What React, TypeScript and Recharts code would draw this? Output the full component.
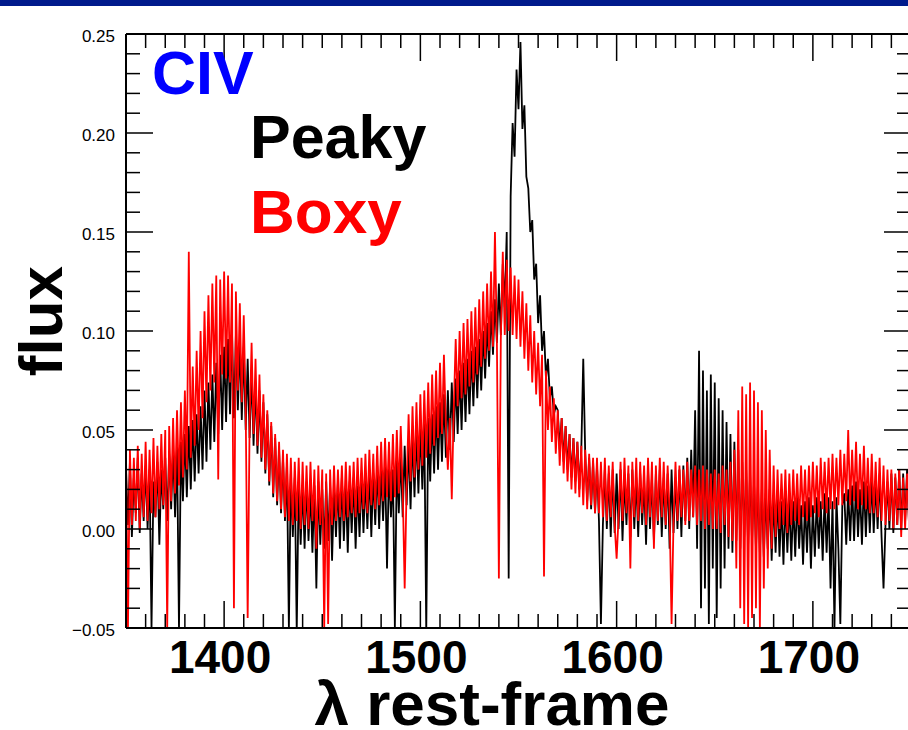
import React from "react";
import { LineChart, Line, XAxis, YAxis } from "recharts";

// wavelength grid of the spectra (rest-frame, Å)
const WAVE_START = 1350;
const WAVE_STEP = 1;

// "Peaky" composite (black), every 1 Å, one row per 10 Å
const peakyFlux = [
  0.030, 0.002, 0.034, -0.004, 0.026, 0.008, 0.036, -0.002, 0.028, 0.004, // 1350
  0.032, 0.000, 0.030, -0.050, 0.024, 0.006, 0.034, -0.008, 0.030, 0.010,
  0.036, 0.004, 0.038, 0.010, 0.040, 0.006, 0.042, -0.050, 0.044, 0.014,
  0.048, 0.016, 0.052, 0.020, 0.055, 0.024, 0.058, 0.028, 0.062, 0.030,
  0.070, 0.034, 0.074, 0.040, 0.078, 0.044, 0.084, 0.048, 0.088, 0.050,
  0.092, 0.054, 0.096, 0.058, 0.100, 0.056, 0.098, 0.060, 0.095, 0.055, // 1400
  0.092, 0.050, 0.086, 0.046, 0.080, 0.042, 0.074, 0.038, 0.070, 0.034,
  0.064, 0.028, 0.058, 0.022, 0.052, 0.016, 0.046, 0.012, 0.040, 0.008,
  0.036, 0.004, 0.032, -0.050, 0.028, -0.004, 0.026, -0.052, 0.024, -0.008,
  0.022, -0.010, 0.024, -0.006, 0.020, -0.012, 0.022, -0.030, 0.024, -0.008,
  0.020, -0.010, 0.024, -0.006, 0.022, -0.016, 0.020, -0.004, 0.024, -0.010, // 1450
  0.026, -0.006, 0.022, -0.012, 0.024, -0.002, 0.026, -0.010, 0.022, -0.004,
  0.028, -0.002, 0.026, 0.000, 0.030, -0.004, 0.028, 0.002, 0.032, 0.000,
  0.030, 0.004, 0.034, -0.020, 0.032, 0.006, 0.030, -0.050, 0.036, 0.008,
  0.038, 0.006, 0.042, 0.012, 0.044, 0.010, 0.048, 0.016, 0.050, 0.018,
  0.052, 0.020, 0.054, -0.052, 0.056, 0.024, 0.058, 0.028, 0.062, 0.030, // 1500
  0.064, 0.034, 0.068, 0.036, 0.070, 0.040, 0.074, 0.044, 0.076, 0.048,
  0.080, 0.050, 0.084, 0.054, 0.086, 0.058, 0.090, 0.062, 0.092, 0.066,
  0.096, 0.070, 0.100, 0.076, 0.104, 0.082, 0.110, 0.088, 0.116, 0.094,
  0.124, 0.098, 0.134, 0.112, 0.150, -0.025, 0.168, 0.205, 0.188, 0.232,
  0.212, 0.246, 0.202, 0.214, 0.178, 0.172, 0.150, 0.156, 0.126, 0.134, // 1550
  0.104, 0.118, 0.090, 0.100, 0.076, 0.086, 0.066, 0.072, 0.058, 0.062,
  0.060, 0.040, 0.056, 0.034, 0.052, 0.030, 0.048, 0.026, 0.046, 0.024,
  0.044, 0.020, 0.040, 0.086, 0.038, 0.014, 0.036, 0.010, 0.034, 0.008,
  0.032, 0.004, -0.048, 0.002, 0.030, 0.000, 0.028, -0.004, 0.030, -0.002,
  0.028, 0.000, 0.030, -0.006, 0.026, 0.002, 0.028, -0.004, 0.030, 0.000, // 1600
  0.026, -0.004, 0.028, 0.002, 0.024, -0.008, 0.030, 0.000, 0.026, -0.006,
  0.028, 0.002, 0.030, -0.004, 0.026, 0.000, 0.028, -0.010, 0.030, -0.002,
  0.026, 0.000, 0.030, -0.004, 0.032, 0.004, 0.036, 0.000, 0.040, 0.006,
  0.060, -0.010, 0.090, -0.040, 0.080, -0.030, 0.070, -0.048, 0.078, -0.020,
  0.074, -0.045, 0.066, -0.030, 0.060, -0.020, 0.054, -0.010, 0.048, -0.012, // 1650
  0.044, -0.006, 0.040, -0.010, 0.034, -0.004, 0.030, -0.008, 0.028, -0.006,
  0.024, -0.010, 0.022, -0.012, 0.020, -0.014, 0.018, -0.010, 0.020, -0.016,
  0.016, -0.012, 0.018, -0.014, 0.014, -0.018, 0.016, -0.012, 0.015, -0.016,
  0.014, -0.014, 0.016, -0.010, 0.012, -0.018, 0.014, -0.012, 0.016, -0.020,
  0.012, -0.014, 0.016, -0.010, 0.014, -0.016, 0.018, -0.012, 0.016, -0.030, // 1700
  0.014, -0.050, 0.016, -0.010, -0.048, 0.012, 0.018, -0.008, 0.020, -0.006,
  0.022, -0.006, 0.024, -0.004, 0.020, -0.008, 0.024, -0.004, 0.022, -0.002,
  0.026, -0.002, 0.024, 0.000, 0.028, -0.004, -0.030, 0.002, 0.024, 0.000,
  0.028, -0.002, 0.026, 0.002, 0.030, 0.000, 0.028, 0.004, 0.030, 0.002,
  0.020, // 1750
];

// "Boxy" composite (red)
const boxyFlux = [
  0.038, -0.050, 0.040, 0.002, 0.036, 0.004, 0.042, 0.000, 0.038, 0.006, // 1350
  0.044, 0.004, 0.040, 0.008, 0.046, 0.006, 0.042, 0.010, 0.048, 0.012,
  0.050, -0.050, 0.052, 0.014, 0.056, 0.018, 0.060, 0.022, 0.064, 0.026,
  0.070, 0.030, 0.140, 0.036, 0.082, 0.042, 0.090, 0.050, 0.100, 0.056,
  0.110, 0.064, 0.118, 0.070, 0.124, 0.074, 0.128, 0.025, 0.126, 0.078,
  0.130, 0.076, 0.128, 0.074, 0.124, -0.040, 0.120, 0.070, 0.114, 0.064, // 1400
  0.108, 0.060, -0.045, 0.054, 0.094, 0.048, 0.086, 0.042, 0.078, 0.036,
  0.068, 0.030, 0.060, 0.024, 0.054, 0.018, 0.048, 0.014, 0.044, 0.010,
  0.040, 0.006, 0.038, 0.004, 0.036, 0.002, 0.034, 0.004, 0.036, 0.000,
  0.034, 0.002, 0.032, 0.000, 0.034, 0.004, 0.030, -0.010, 0.032, 0.002,
  0.030, -0.050, 0.028, -0.048, 0.030, 0.002, 0.032, 0.004, 0.030, 0.006, // 1450
  0.032, 0.004, 0.034, 0.006, 0.032, 0.008, 0.034, 0.006, 0.036, 0.008,
  0.036, 0.010, 0.038, 0.008, 0.040, 0.012, 0.038, 0.010, 0.042, 0.012,
  0.044, 0.014, 0.046, 0.016, 0.044, 0.014, 0.048, 0.016, 0.050, 0.018,
  0.052, 0.020, -0.030, 0.022, 0.058, 0.024, 0.062, 0.026, 0.064, 0.030,
  0.068, 0.032, 0.070, 0.036, 0.074, 0.038, 0.078, 0.042, 0.080, 0.046, // 1500
  0.084, 0.048, 0.088, 0.052, 0.030, 0.056, 0.015, 0.060, 0.096, 0.062,
  0.100, 0.066, 0.104, 0.068, 0.106, 0.072, 0.110, 0.074, 0.112, 0.078,
  0.116, 0.082, 0.120, 0.086, 0.124, 0.090, 0.130, 0.092, 0.150, 0.094,
  -0.025, 0.096, 0.140, 0.098, 0.136, 0.100, 0.132, 0.098, 0.128, 0.096,
  0.126, 0.092, 0.120, 0.086, 0.114, 0.080, 0.108, 0.074, 0.100, 0.068, // 1550
  0.094, 0.062, 0.088, -0.024, 0.080, 0.050, 0.072, 0.044, 0.066, 0.038,
  0.060, 0.032, 0.056, 0.028, 0.052, 0.024, 0.048, 0.020, 0.046, 0.018,
  0.044, 0.016, 0.042, 0.012, 0.040, 0.010, 0.038, 0.012, 0.036, 0.008,
  0.036, 0.008, 0.034, 0.006, 0.036, 0.004, 0.032, 0.006, 0.034, 0.002,
  -0.015, 0.006, 0.034, 0.004, 0.036, 0.008, 0.032, -0.020, 0.034, 0.006, // 1600
  0.036, 0.004, 0.034, 0.008, 0.032, 0.002, 0.036, 0.006, 0.034, -0.010,
  0.032, 0.004, 0.036, 0.006, 0.034, 0.002, 0.032, 0.008, -0.048, 0.004,
  0.034, 0.004, 0.032, 0.006, 0.030, 0.002, 0.034, 0.004, 0.030, 0.006,
  0.032, 0.002, 0.030, 0.004, 0.032, 0.000, 0.030, 0.002, 0.028, 0.000,
  0.030, 0.000, 0.028, -0.002, 0.032, 0.002, 0.030, -0.004, 0.034, -0.006, // 1650
  0.040, -0.020, 0.060, -0.040, 0.072, -0.048, 0.068, -0.050, 0.074, -0.045,
  0.070, -0.040, 0.064, -0.050, 0.060, -0.030, 0.050, -0.020, 0.040, -0.010,
  0.032, -0.004, 0.030, 0.000, 0.028, 0.002, 0.030, -0.002, 0.028, 0.002,
  0.030, 0.004, 0.028, 0.002, 0.032, 0.006, 0.030, 0.004, 0.032, 0.006,
  0.034, 0.008, 0.032, 0.006, 0.036, 0.010, 0.034, 0.008, 0.036, 0.010, // 1700
  0.038, 0.010, 0.036, 0.012, 0.040, 0.012, 0.038, 0.014, 0.050, 0.012,
  0.040, 0.014, 0.044, 0.010, 0.038, 0.012, 0.042, 0.010, 0.036, 0.008,
  0.038, 0.008, 0.034, 0.006, 0.036, 0.004, 0.032, 0.002, 0.030, 0.004,
  0.030, 0.000, 0.028, 0.002, 0.030, -0.004, 0.026, 0.000, 0.028, 0.002,
  0.020, // 1750
];

const xTicks = [
  1350, 1360, 1370, 1380, 1390, 1400, 1410, 1420, 1430, 1440,
  1450, 1460, 1470, 1480, 1490, 1500, 1510, 1520, 1530, 1540,
  1550, 1560, 1570, 1580, 1590, 1600, 1610, 1620, 1630, 1640,
  1650, 1660, 1670, 1680, 1690, 1700, 1710, 1720, 1730, 1740, 1750,
];
const xMajor = [1400, 1500, 1600, 1700];

const yTicks = [
  -0.05, -0.04, -0.03, -0.02, -0.01, 0, 0.01, 0.02, 0.03, 0.04,
  0.05, 0.06, 0.07, 0.08, 0.09, 0.1, 0.11, 0.12, 0.13, 0.14,
  0.15, 0.16, 0.17, 0.18, 0.19, 0.2, 0.21, 0.22, 0.23, 0.24, 0.25,
];
const yMajor = [-0.05, 0, 0.05, 0.1, 0.15, 0.2, 0.25];

const data = peakyFlux.map((p, i) => ({
  w: WAVE_START + i * WAVE_STEP,
  peaky: p,
  boxy: boxyFlux[i],
}));

const FONT = "'Liberation Sans', Arial, Helvetica, sans-serif";
const MAJOR_LEN = 27;
const MINOR_LEN = 14;

const isMajorY = (v: number) => yMajor.some((m) => Math.abs(m - v) < 1e-6);
const fmtY = (v: number) => (v < 0 ? "\u2212" + Math.abs(v).toFixed(2) : v.toFixed(2));

function BottomTick({ x, y, payload }: any) {
  const major = xMajor.includes(payload.value);
  return (
    <g>
      <line x1={x} x2={x} y1={y} y2={y - (major ? MAJOR_LEN : MINOR_LEN)} stroke="#000" strokeWidth={1.5} />
      {major && (
        <text x={x - 4} y={y + 45} textAnchor="middle" fontSize={46} fontWeight="bold" fontFamily={FONT} fill="#000">
          {payload.value}
        </text>
      )}
    </g>
  );
}

function TopTick({ x, y, payload }: any) {
  const major = xMajor.includes(payload.value);
  return <line x1={x} x2={x} y1={y} y2={y + (major ? MAJOR_LEN : MINOR_LEN)} stroke="#000" strokeWidth={1.5} />;
}

function LeftTick({ x, y, payload }: any) {
  const major = isMajorY(payload.value);
  return (
    <g>
      <line x1={x} x2={x + (major ? MAJOR_LEN : MINOR_LEN)} y1={y} y2={y} stroke="#000" strokeWidth={1.5} />
      {major && (
        <text x={x - 11} y={y + 8} textAnchor="end" fontSize={17} fontFamily={FONT} fill="#000">
          {fmtY(payload.value)}
        </text>
      )}
    </g>
  );
}

function RightTick({ x, y, payload }: any) {
  const major = isMajorY(payload.value);
  return <line x1={x} x2={x - (major ? MAJOR_LEN : MINOR_LEN)} y1={y} y2={y} stroke="#000" strokeWidth={1.5} />;
}

export default function App() {
  return (
    <div style={{ position: "absolute", left: 0, top: 0, width: 908, height: 730, overflow: "hidden", background: "#fff" }}>
      <div style={{ position: "absolute", left: 0, top: 0, width: 908, height: 6, background: "#001a8c" }} />
      <LineChart width={920} height={730} data={data} margin={{ top: 0, right: 0, bottom: 0, left: 0 }}>
        <XAxis
          dataKey="w" type="number" domain={[1350, 1750]} ticks={xTicks} interval={0}
          allowDataOverflow height={102} tickSize={0} tickMargin={0}
          axisLine={{ stroke: "#000", strokeWidth: 2 }} tickLine={false} tick={<BottomTick />}
        />
        <XAxis
          xAxisId="top" orientation="top" dataKey="w" type="number" domain={[1350, 1750]} ticks={xTicks} interval={0}
          allowDataOverflow height={34} tickSize={0} tickMargin={0}
          axisLine={{ stroke: "#000", strokeWidth: 2 }} tickLine={false} tick={<TopTick />}
        />
        <YAxis
          type="number" domain={[-0.05, 0.25]} ticks={yTicks} interval={0} allowDataOverflow
          width={126} tickSize={0} tickMargin={0}
          axisLine={{ stroke: "#000", strokeWidth: 2 }} tickLine={false} tick={<LeftTick />}
        />
        <YAxis
          yAxisId="right" orientation="right" type="number" domain={[-0.05, 0.25]} ticks={yTicks} interval={0}
          allowDataOverflow width={9} tickSize={0} tickMargin={0}
          axisLine={{ stroke: "#000", strokeWidth: 2 }} tickLine={false} tick={<RightTick />}
        />
        <Line dataKey="peaky" stroke="#000" strokeWidth={1.8} dot={false} isAnimationActive={false} />
        <Line dataKey="boxy" stroke="#ff0000" strokeWidth={1.8} dot={false} isAnimationActive={false} />
      </LineChart>
      <svg width={908} height={730} style={{ position: "absolute", left: 0, top: 0, pointerEvents: "none" }}>
        <text x={152} y={94} fontSize={61} fontWeight="bold" fontFamily={FONT} fill="#0000ff">CIV</text>
        <text x={250} y={158} fontSize={61} fontWeight="bold" fontFamily={FONT} fill="#000">Peaky</text>
        <text x={250} y={233} fontSize={62} fontWeight="bold" fontFamily={FONT} fill="#ff0000">Boxy</text>
        <text x={62} y={321} transform="rotate(-90 62 321)" textAnchor="middle" fontSize={62} fontWeight="bold" fontFamily={FONT} fill="#000">flux</text>
        <text x={492} y={725} textAnchor="middle" fontSize={62} fontWeight="bold" fontFamily={FONT} fill="#000">λ rest-frame</text>
      </svg>
    </div>
  );
}
